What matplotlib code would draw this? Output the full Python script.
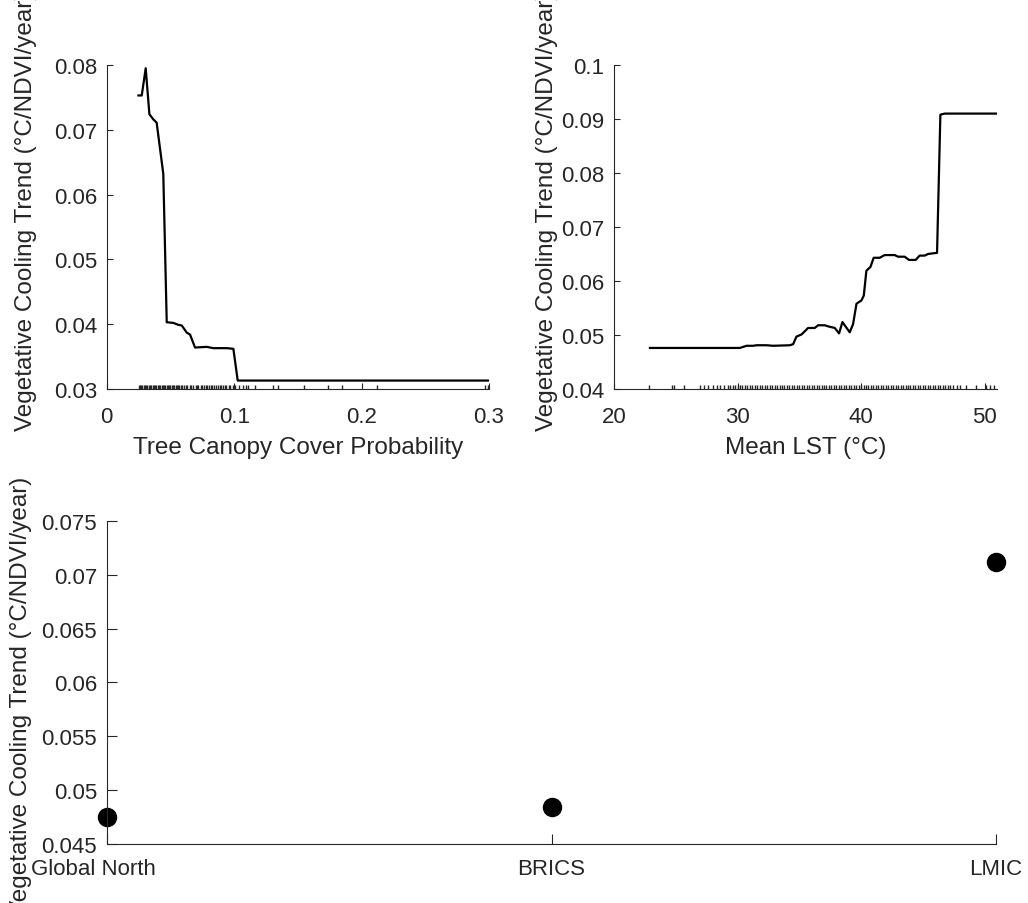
import matplotlib
matplotlib.use("Agg")
import matplotlib.pyplot as plt
import matplotlib.transforms as mtransforms
from matplotlib.ticker import FuncFormatter

# partial dependence: tree canopy cover
canopy_x = [0.0249, 0.0275, 0.0306, 0.0335, 0.0366, 0.0392, 0.0444, 0.0471, 0.0523,
            0.0562, 0.0589, 0.0628, 0.0654, 0.0693, 0.0785, 0.0837, 0.0942, 0.0994,
            0.1028, 0.3]
canopy_y = [0.0753, 0.0753, 0.0795, 0.0724, 0.0716, 0.0711, 0.0632, 0.0403, 0.0402,
            0.0399, 0.0398, 0.0387, 0.0384, 0.0364, 0.0365, 0.0363, 0.0363, 0.0362,
            0.0313, 0.0313]
canopy_rug = [0.025, 0.026, 0.027, 0.028, 0.029, 0.030, 0.031, 0.032, 0.033, 0.034,
              0.035, 0.036, 0.037, 0.038, 0.039, 0.040, 0.041, 0.042, 0.043, 0.044,
              0.045, 0.046, 0.047, 0.048, 0.049, 0.050, 0.051, 0.052, 0.053, 0.054,
              0.055, 0.056, 0.057, 0.058, 0.059, 0.061, 0.062, 0.063, 0.065, 0.066,
              0.068, 0.070, 0.071, 0.072, 0.074, 0.075, 0.076, 0.078, 0.079, 0.080,
              0.082, 0.083, 0.084, 0.086, 0.087, 0.089, 0.090, 0.091, 0.093, 0.094,
              0.096, 0.097, 0.099, 0.101, 0.104, 0.107, 0.109, 0.111, 0.1165, 0.1307,
              0.1346, 0.155, 0.1735, 0.185, 0.2124, 0.297, 0.2995]

# partial dependence: mean LST
lst_x = [22.91, 30.19, 30.73, 31.27, 31.54, 32.35, 32.88, 34.23, 34.50, 34.77, 35.18,
         35.45, 35.71, 36.25, 36.52, 37.06, 37.33, 37.87, 38.22, 38.49, 39.08, 39.35,
         39.63, 40.03, 40.22, 40.43, 40.76, 41.02, 41.51, 41.91, 42.72, 42.99, 43.53,
         43.88, 44.42, 44.74, 45.15, 45.42, 46.09, 46.15, 46.42, 46.77, 50.95]
lst_y = [0.0476, 0.0476, 0.0480, 0.0480, 0.0481, 0.0481, 0.0480, 0.0481, 0.0483, 0.0497,
         0.0501, 0.0507, 0.0513, 0.0513, 0.0518, 0.0518, 0.0516, 0.0513, 0.0503, 0.0524,
         0.0505, 0.0520, 0.0558, 0.0564, 0.0573, 0.0619, 0.0626, 0.0643, 0.0643, 0.0648,
         0.0648, 0.0645, 0.0645, 0.0639, 0.0639, 0.0647, 0.0647, 0.0650, 0.0652, 0.0652,
         0.0908, 0.0910, 0.0910]
lst_rug = [22.86, 24.67, 24.85, 25.66, 27.0, 27.3, 27.6, 28.0, 28.3, 28.6, 28.9, 29.2,
           29.4, 29.6, 29.8, 30.0, 30.2, 30.4, 30.6, 30.8, 31.0, 31.2, 31.4, 31.6, 31.8,
           32.0, 32.2, 32.4, 32.6, 32.8, 33.0, 33.2, 33.4, 33.6, 33.8, 34.0, 34.2, 34.4,
           34.6, 34.8, 35.0, 35.2, 35.4, 35.6, 35.8, 36.0, 36.2, 36.4, 36.6, 36.8, 37.0,
           37.2, 37.4, 37.6, 37.8, 38.0, 38.2, 38.4, 38.6, 38.8, 39.0, 39.2, 39.4, 39.6,
           39.8, 40.0, 40.2, 40.4, 40.6, 40.8, 41.0, 41.2, 41.4, 41.6, 41.8, 42.0, 42.2,
           42.4, 42.6, 42.8, 43.0, 43.2, 43.4, 43.6, 43.8, 44.0, 44.2, 44.4, 44.6, 44.8,
           45.0, 45.2, 45.4, 45.6, 45.8, 46.0, 46.2, 46.4, 46.6, 46.8, 47.0, 47.2, 47.44,
           47.8, 48.0, 48.5, 49.3, 50.1, 50.4, 50.8]

# by country group
groups = ["Global North", "BRICS", "LMIC"]
group_y = [0.0475, 0.0484, 0.0712]

ylab = "Vegetative Cooling Trend (°C/NDVI/year)"
grey = "#262626"

plt.rcParams["font.family"] = ["Liberation Sans", "DejaVu Sans"]
plt.rcParams["font.size"] = 16
plt.rcParams["text.color"] = grey
plt.rcParams["axes.labelcolor"] = grey
plt.rcParams["xtick.color"] = grey
plt.rcParams["ytick.color"] = grey
plt.rcParams["axes.edgecolor"] = grey
plt.rcParams["xtick.direction"] = "in"
plt.rcParams["ytick.direction"] = "in"

fmt = FuncFormatter(lambda v, p: "%g" % round(v, 4))


def style(ax, ticklen):
    ax.spines["top"].set_visible(False)
    ax.spines["right"].set_visible(False)
    ax.tick_params(length=ticklen, width=0.8, labelsize=16)
    ax.tick_params(axis="y", pad=7)
    ax.tick_params(axis="x", pad=12)
    ax.yaxis.set_major_formatter(fmt)


def main():
    fig = plt.figure(figsize=(10.28, 9.04), dpi=100)

    ax1 = fig.add_axes([0.1038, 0.5686, 0.3719, 0.3584])
    ax1.plot(canopy_x, canopy_y, color="black", lw=1.6)
    ax1.vlines(canopy_rug, 0, 0.012, color=grey, lw=1, transform=ax1.get_xaxis_transform())
    ax1.set_xlim(0, 0.3)
    ax1.set_ylim(0.03, 0.08)
    ax1.set_xticks([0, 0.1, 0.2, 0.3])
    ax1.set_yticks([0.03, 0.04, 0.05, 0.06, 0.07, 0.08])
    style(ax1, 4)
    ax1.xaxis.set_major_formatter(fmt)
    ax1.set_xlabel("Tree Canopy Cover Probability", fontsize=17.5, labelpad=7)
    ax1.set_ylabel(ylab, fontsize=17.5, labelpad=12)
    ax1.yaxis.label.set_y(0.55)

    ax2 = fig.add_axes([0.5973, 0.5686, 0.3725, 0.3584])
    ax2.plot(lst_x, lst_y, color="black", lw=1.6)
    ax2.vlines(lst_rug, 0, 0.012, color=grey, lw=1, transform=ax2.get_xaxis_transform())
    ax2.set_xlim(20, 51)
    ax2.set_ylim(0.04, 0.1)
    ax2.set_xticks([20, 30, 40, 50])
    ax2.set_yticks([0.04, 0.05, 0.06, 0.07, 0.08, 0.09, 0.1])
    style(ax2, 4)
    ax2.xaxis.set_major_formatter(fmt)
    ax2.set_xlabel("Mean LST (°C)", fontsize=17.5, labelpad=7)
    ax2.set_ylabel(ylab, fontsize=17.5, labelpad=2)
    ax2.yaxis.label.set_y(0.55)

    ax3 = fig.add_axes([0.1040, 0.0653, 0.8650, 0.3573])
    ax3.plot(range(len(groups)), group_y, "o", color="black", markersize=13, clip_on=False)
    ax3.set_xlim(0, len(groups) - 1)
    ax3.set_ylim(0.045, 0.075)
    ax3.set_yticks([0.045, 0.05, 0.055, 0.06, 0.065, 0.07, 0.075])
    style(ax3, 7)
    ax3.set_xticks(range(len(groups)))
    ax3.set_xticklabels(groups)
    ax3.tick_params(axis="x", pad=10)
    ax3.set_ylabel(ylab, fontsize=17.5, labelpad=7)
    ax3.yaxis.label.set_y(0.46)
    # nudge first label left like the original
    lab0 = ax3.get_xticklabels()[0]
    lab0.set_transform(lab0.get_transform() + mtransforms.ScaledTranslation(-0.13, 0, fig.dpi_scale_trans))

    fig.savefig("out.png", dpi=100)


if __name__ == "__main__":
    main()
